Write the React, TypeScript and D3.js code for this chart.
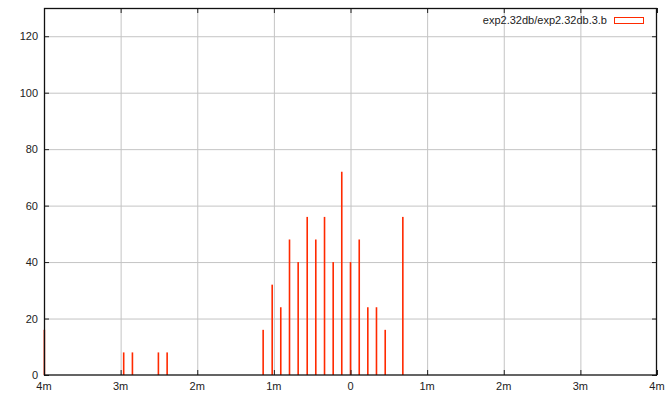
import React, { useEffect, useRef } from "react";
import * as d3 from "d3";

// bin positions (x, in axis units) and counts
const binX = [
  -3.995, -2.96, -2.846, -2.507, -2.393,
  -1.14, -1.022, -0.91, -0.796, -0.683, -0.565, -0.453, -0.339, -0.226, -0.114,
  0, 0.114, 0.226, 0.339, 0.453, 0.683,
];
const binCount = [
  16, 8, 8, 8, 8,
  16, 32, 24, 48, 40, 56, 48, 56, 40, 72,
  40, 48, 24, 24, 16, 56,
];
const xTicks = [-4, -3, -2, -1, 0, 1, 2, 3, 4];
const xTickLabels = ["4m", "3m", "2m", "1m", "0", "1m", "2m", "3m", "4m"];
const yTicks = [0, 20, 40, 60, 80, 100, 120];
const seriesName = "exp2.32db/exp2.32db.3.b";

const App: React.FC = () => {
  const svgRef = useRef<SVGSVGElement | null>(null);

  useEffect(() => {
    const width = 669;
    const height = 394;
    const marginLeft = 44;
    const marginRight = 12;
    const marginTop = 8;
    const marginBottom = 19;
    const red = "#ff2a00";
    const font = "'Liberation Sans', Arial, Helvetica, sans-serif";

    const svg = d3.select(svgRef.current);
    svg.selectAll("*").remove();
    svg.attr("width", width).attr("height", height).attr("viewBox", [0, 0, width, height]);

    const x = d3.scaleLinear().domain([-4, 4]).range([marginLeft, width - marginRight]);
    const y = d3.scaleLinear().domain([0, 130]).range([height - marginBottom, marginTop]);

    svg.append("rect").attr("width", width).attr("height", height).attr("fill", "#fff");

    // grid
    svg
      .append("g")
      .selectAll("line")
      .data(xTicks.slice(1, -1))
      .join("line")
      .attr("x1", (d) => x(d) + 0.5)
      .attr("x2", (d) => x(d) + 0.5)
      .attr("y1", y(130))
      .attr("y2", y(0))
      .attr("stroke", "#c4c4c4")
      .attr("stroke-width", 1);
    svg
      .append("g")
      .selectAll("line")
      .data(yTicks.slice(1))
      .join("line")
      .attr("x1", x(-4))
      .attr("x2", x(4))
      .attr("y1", (d) => y(d) + 0.5)
      .attr("y2", (d) => y(d) + 0.5)
      .attr("stroke", "#c4c4c4")
      .attr("stroke-width", 1);

    // bars (impulses)
    svg
      .append("g")
      .selectAll("rect")
      .data(binX)
      .join("rect")
      .attr("x", (d) => x(d) - 0.8)
      .attr("width", 1.6)
      .attr("y", (_, i) => y(binCount[i]))
      .attr("height", (_, i) => y(0) - y(binCount[i]))
      .attr("fill", red);

    // ticks (inward)
    const tk = svg.append("g").attr("stroke", "#222").attr("stroke-width", 1);
    xTicks.forEach((t) => {
      tk.append("line").attr("x1", x(t) + 0.5).attr("x2", x(t) + 0.5).attr("y1", y(0)).attr("y2", y(0) - 5);
      tk.append("line").attr("x1", x(t) + 0.5).attr("x2", x(t) + 0.5).attr("y1", y(130)).attr("y2", y(130) + 5);
    });
    yTicks.forEach((t) => {
      tk.append("line").attr("x1", x(-4)).attr("x2", x(-4) + 5).attr("y1", y(t) + 0.5).attr("y2", y(t) + 0.5);
      tk.append("line").attr("x1", x(4)).attr("x2", x(4) - 5).attr("y1", y(t) + 0.5).attr("y2", y(t) + 0.5);
    });

    // border
    svg
      .append("rect")
      .attr("x", x(-4) + 0.5)
      .attr("y", y(130) + 0.5)
      .attr("width", x(4) - x(-4) - 1)
      .attr("height", y(0) - y(130) - 0.5)
      .attr("fill", "none")
      .attr("stroke", "#111")
      .attr("stroke-width", 1.3);

    // tick labels
    svg
      .append("g")
      .selectAll("text")
      .data(yTicks)
      .join("text")
      .attr("x", x(-4) - 6)
      .attr("y", (d) => y(d) + 4)
      .attr("text-anchor", "end")
      .attr("font-family", font)
      .attr("font-size", 11)
      .attr("fill", "#222")
      .text((d) => d);
    svg
      .append("g")
      .selectAll("text")
      .data(xTicks)
      .join("text")
      .attr("x", (d) => x(d))
      .attr("y", y(0) + 15)
      .attr("text-anchor", "middle")
      .attr("font-family", font)
      .attr("font-size", 11)
      .attr("fill", "#222")
      .text((_, i) => xTickLabels[i]);

    // legend
    svg
      .append("text")
      .attr("x", 607)
      .attr("y", 24)
      .attr("text-anchor", "end")
      .attr("font-family", font)
      .attr("font-size", 11)
      .attr("fill", "#222")
      .text(seriesName);
    svg
      .append("rect")
      .attr("x", 614.5)
      .attr("y", 17.5)
      .attr("width", 29)
      .attr("height", 6)
      .attr("fill", "none")
      .attr("stroke", red)
      .attr("stroke-width", 1);
  }, []);

  return <svg ref={svgRef} style={{ position: "absolute", left: 0, top: 0 }}></svg>;
};

export default App;
